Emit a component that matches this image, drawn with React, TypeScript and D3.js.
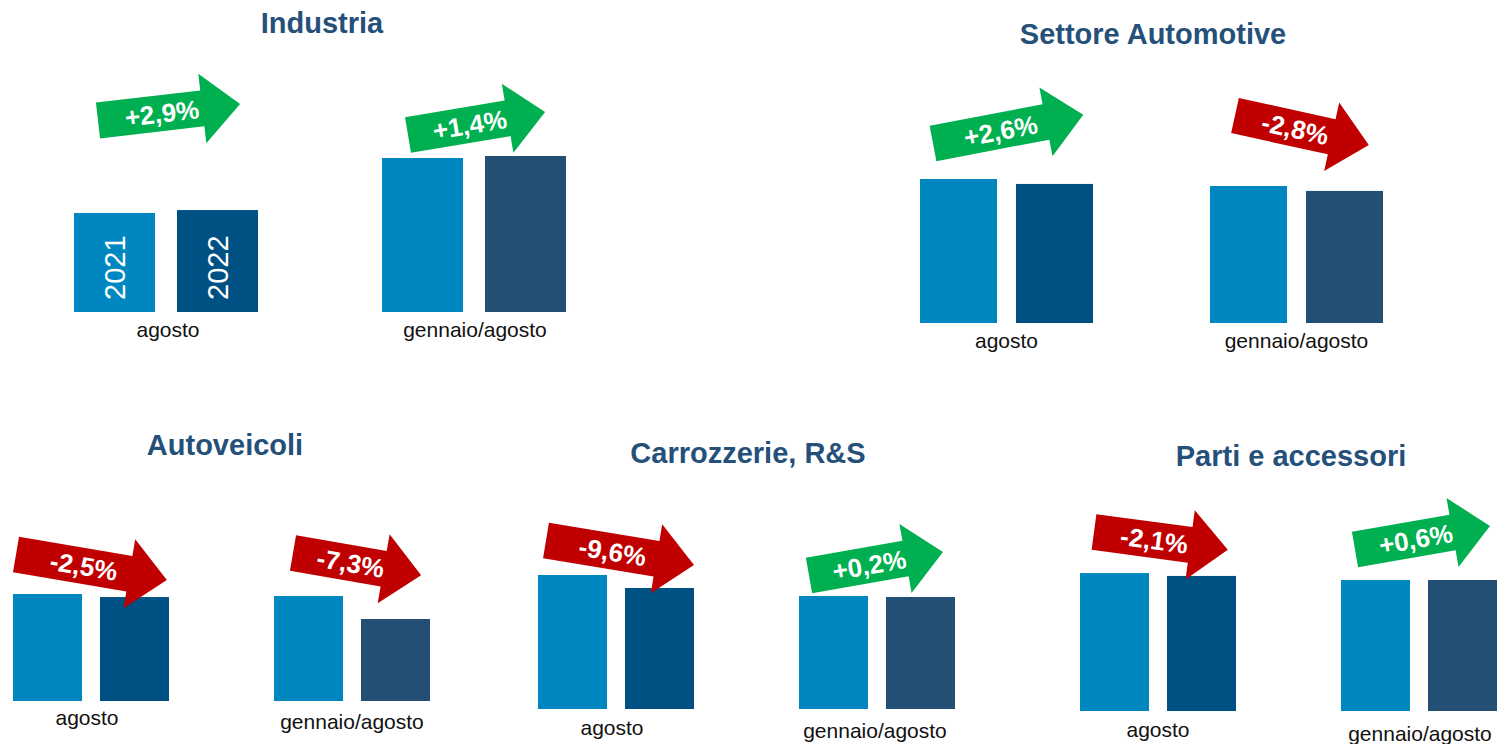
import React from "react";
import * as d3 from "d3";

// ---------- DATA ----------
const panelTitles = ["Industria", "Settore Automotive", "Autoveicoli", "Carrozzerie, R&S", "Parti e accessori"];
const periods = ["agosto", "gennaio/agosto"];
const years = ["2021", "2022"];
// bar values (index, gennaio/agosto 2021 = 100), per panel: [agosto, gennaio/agosto]
const values2021 = [
  [64.3, 100],
  [105.1, 100],
  [101.9, 100],
  [118.6, 100],
  [105.3, 100],
];
const values2022 = [
  [66.2, 101.3],
  [101.5, 96.4],
  [99.0, 78.1],
  [107.1, 99.1],
  [103.1, 100],
];
// percentage change 2022 vs 2021, per panel: [agosto, gennaio/agosto]
const changes = [
  [2.9, 1.4],
  [2.6, -2.8],
  [-2.5, -7.3],
  [-9.6, 0.2],
  [-2.1, 0.6],
];

// ---------- LAYOUT / STYLE ----------
const W = 1498;
const H = 744;
const FONT = "'Liberation Sans', Arial, Helvetica, sans-serif";
const TITLE_COLOR = "#24507A";
const COLOR_2021 = "#0087BF";
const COLOR_2022 = ["#005183", "#244F75"]; // per period
const GREEN = "#00B050";
const RED = "#C00000";

const panelLayout = [
  { x0: 74, baseline: 312, h100: 154, barW: 81, barGap: 22, groupStep: 308, titleX: 322, titleY: 33, labelDy: [25, 25], labelDx: [2, 1], yearLabels: true },
  { x0: 920, baseline: 323, h100: 137, barW: 77, barGap: 19, groupStep: 290, titleX: 1153, titleY: 44, labelDy: [25, 25], labelDx: [0, 0], yearLabels: false },
  { x0: 13, baseline: 701, h100: 105, barW: 69, barGap: 18, groupStep: 261, titleX: 225, titleY: 455, labelDy: [24, 28], labelDx: [-4, 0], yearLabels: false },
  { x0: 538, baseline: 709, h100: 113, barW: 69, barGap: 18, groupStep: 261, titleX: 748, titleY: 463, labelDy: [26, 29], labelDx: [-4, -2], yearLabels: false },
  { x0: 1080, baseline: 711, h100: 131, barW: 69, barGap: 18, groupStep: 261, titleX: 1291, titleY: 466, labelDy: [26, 30], labelDx: [0, 1], yearLabels: false },
];

// arrow placement per panel per period: [leftMidX, leftMidY, length, angleDeg]
const arrowLayout = [
  [[98, 120.5, 143, -6.6], [408, 135, 139, -9.5]],
  [[933, 143.5, 153, -10.8], [1235, 115.5, 137, 12.4]],
  [[16, 554.5, 153, 9.6], [293, 553, 130, 9.8]],
  [[546, 540.5, 150, 9.4], [809, 575.5, 136, -10]],
  [[1094, 532, 135, 7.6], [1355, 549.5, 137, -9.9]],
];

const SHAFT = 36;
const HEAD = 70;
const HEAD_LEN = 38;

function arrowPath(L: number) {
  const p = d3.path();
  p.moveTo(0, -SHAFT / 2);
  p.lineTo(L - HEAD_LEN, -SHAFT / 2);
  p.lineTo(L - HEAD_LEN, -HEAD / 2);
  p.lineTo(L, 0);
  p.lineTo(L - HEAD_LEN, HEAD / 2);
  p.lineTo(L - HEAD_LEN, SHAFT / 2);
  p.lineTo(0, SHAFT / 2);
  p.closePath();
  return p.toString();
}

const fmtPct = (v: number) =>
  (v >= 0 ? "+" : "-") + d3.format(".1f")(Math.abs(v)).replace(".", ",") + "%";

function Panel({ idx }: { idx: number }) {
  const L = panelLayout[idx];
  const groupW = 2 * L.barW + L.barGap;
  const outer = d3
    .scaleBand<string>()
    .domain(periods)
    .range([L.x0, L.x0 + L.groupStep + groupW])
    .paddingInner(1 - groupW / L.groupStep)
    .paddingOuter(0);
  const inner = d3
    .scaleBand<string>()
    .domain(years)
    .range([0, groupW])
    .paddingInner(1 - L.barW / (L.barW + L.barGap))
    .paddingOuter(0);
  const y = d3
    .scaleLinear()
    .domain([0, 100])
    .range([L.baseline, L.baseline - L.h100]);

  return (
    <g>
      <text
        x={L.titleX}
        y={L.titleY}
        textAnchor="middle"
        fontFamily={FONT}
        fontWeight="bold"
        fontSize={29}
        fill={TITLE_COLOR}
      >
        {panelTitles[idx]}
      </text>
      {periods.map((per, pi) => {
        const gx = outer(per)!;
        const vals = [values2021[idx][pi], values2022[idx][pi]];
        const [ax, ay, aL, aAng] = arrowLayout[idx][pi];
        const ch = changes[idx][pi];
        return (
          <g key={per}>
            {years.map((yr, yi) => {
              const bx = gx + inner(yr)!;
              const top = y(vals[yi]);
              return (
                <g key={yr}>
                  <rect
                    x={bx}
                    y={top}
                    width={inner.bandwidth()}
                    height={L.baseline - top}
                    fill={yi === 0 ? COLOR_2021 : COLOR_2022[pi]}
                  />
                  {L.yearLabels && pi === 0 && (
                    <text
                      transform={`translate(${bx + inner.bandwidth() / 2},${L.baseline - 12}) rotate(-90)`}
                      dy="0.36em"
                      textAnchor="start"
                      fontFamily={FONT}
                      fontSize={29}
                      fill="#ffffff"
                    >
                      {yr}
                    </text>
                  )}
                </g>
              );
            })}
            <text
              x={gx + groupW / 2 + L.labelDx[pi]}
              y={L.baseline + L.labelDy[pi]}
              textAnchor="middle"
              fontFamily={FONT}
              fontSize={21}
              fill="#111111"
            >
              {per}
            </text>
            <g transform={`translate(${ax},${ay}) rotate(${aAng})`}>
              <path d={arrowPath(aL)} fill={ch >= 0 ? GREEN : RED} />
              <text
                x={aL * 0.45}
                y={0}
                dy="0.36em"
                textAnchor="middle"
                fontFamily={FONT}
                fontWeight="bold"
                fontSize={26}
                fill="#ffffff"
              >
                {fmtPct(ch)}
              </text>
            </g>
          </g>
        );
      })}
    </g>
  );
}

export default function App() {
  return (
    <svg
      width={W}
      height={H}
      viewBox={`0 0 ${W} ${H}`}
      style={{ position: "absolute", left: 0, top: 0, display: "block", background: "#ffffff" }}
    >
      <rect x={0} y={0} width={W} height={H} fill="#ffffff" />
      {panelTitles.map((_, i) => (
        <Panel key={i} idx={i} />
      ))}
    </svg>
  );
}
